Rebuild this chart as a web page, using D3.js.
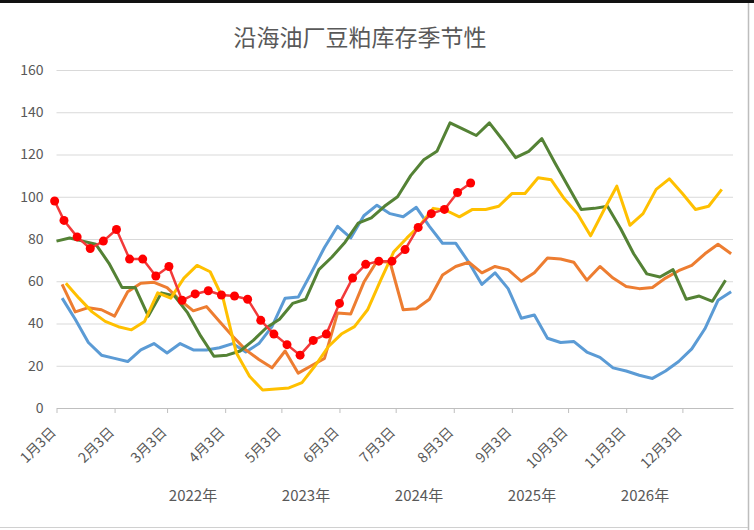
<!DOCTYPE html>
<html>
<head>
<meta charset="utf-8">
<script src="https://cdn.jsdelivr.net/npm/d3@7"></script>
<style>
  body { margin: 0; background: #fff; }
  text { font-family: "Noto Sans CJK SC", "Microsoft YaHei", sans-serif; }
</style>
</head>
<body>
<div id="chart"></div>
<script>
// weekly inventory readings (万吨), one array per year
const years = ["2022年", "2023年", "2024年", "2025年", "2026年"];
const monthLabels = ["1月3日", "2月3日", "3月3日", "4月3日", "5月3日", "6月3日",
  "7月3日", "8月3日", "9月3日", "10月3日", "11月3日", "12月3日"];
const yTicks = [0, 20, 40, 60, 80, 100, 120, 140, 160];

// first reading date of each year (month-day), then one reading a week
const firstDates = ["01-06", "01-06", "01-03", "01-08", "01-07"];
const leadDate2026 = "01-02";

const v2022 = [52, 42, 31, 25, 23.5, 22, 27.5, 30.5, 26, 30.5, 27.5, 27.5, 28.5, 30.5, 26.5, 30.5,
  38.5, 52, 52.5, 64, 76, 86, 80.5, 91, 96, 92, 90.5, 95, 86, 78, 78, 69, 58.5, 64, 56.5, 42.5,
  44, 33, 31, 31.5, 26.5, 24, 19, 17.5, 15.5, 14, 17.5, 22, 28, 37.5, 51, 55];
const v2023 = [58.5, 45.5, 47.5, 46.5, 43.5, 55, 59, 59.5, 57, 51, 46, 48, 41, 34, 27.5, 23,
  19, 27, 16.5, 20, 23.5, 45, 44.5, 59.5, 69.5, 69, 46.5, 47, 51.5, 63, 67, 69, 64, 67, 65.5, 60,
  64, 71, 70.5, 69, 60.5, 67, 61.5, 57.5, 56.5, 57, 61.5, 65, 67.5, 73, 77.5, 73];
const v2024 = [79, 80.5, 79, 77.5, 68.5, 57, 57, 43.5, 54.5, 53, 45, 34, 24.5, 25, 27, 32,
  38, 42, 49.5, 51.5, 65.5, 71.5, 78.5, 87.5, 90, 95.5, 100, 110, 117.5, 121.5, 135, 132, 129, 135,
  127, 118.5, 121.5, 127.5, 116, 105, 94, 94.5, 95.5, 85, 73, 63.5, 62, 65.5, 51.5, 53, 50.5, 60.5];
const v2025 = [59, 52, 45.5, 41, 38.5, 37, 41, 54.5, 52, 61.5, 67.5, 64.5, 51.5, 26, 15, 8.5,
  9, 9.5, 12, 20, 29, 35, 38.5, 46.5, 60.5, 74, 80.5, 86.5, 94.5, 93.5, 90.5, 94, 94, 95.5, 101.5,
  101.5, 109, 108, 99, 92, 81.5, 93.5, 105, 86.5, 92, 103.5, 108.5, 101.5, 94, 95.5, 103.5];
const v2026 = [98, 88.8, 81, 75.5, 79, 84.5, 70.5, 70.5, 62.5, 67, 51, 54, 55.5, 53.5, 53, 51.5,
  41.5, 35, 30, 25, 32, 35, 49.5, 61.5, 68, 69.5, 69.5, 75, 85.5, 92, 94, 102, 106.5];

const colors = ["#5b9bd5", "#ed7d31", "#548235", "#ffc000", "#f23a3a"];

function drawChart() {
  let W = 754, H = 530;
  let margin = { top: 70, right: 21, bottom: 122, left: 56.5 };
  let w = W - margin.left - margin.right;
  let h = H - margin.top - margin.bottom;

  let svg = d3.select("#chart").append("svg")
    .attr("width", W)
    .attr("height", H);

  // frame edges seen in the screenshot
  svg.append("rect").attr("x", 0).attr("y", 0).attr("width", W).attr("height", 3).attr("fill", "#111");
  svg.append("line").attr("x1", 748.5).attr("x2", 748.5).attr("y1", 3).attr("y2", H)
    .attr("stroke", "#bdbdbd").attr("stroke-width", 1.5);
  svg.append("line").attr("x1", 0).attr("x2", 748).attr("y1", 527.5).attr("y2", 527.5)
    .attr("stroke", "#d0d0d0").attr("stroke-width", 1);

  svg.append("text")
    .attr("x", 360)
    .attr("y", 46)
    .attr("text-anchor", "middle")
    .attr("font-size", "23px")
    .attr("fill", "#595959")
    .text("沿海油厂豆粕库存季节性");

  let g = svg.append("g")
    .attr("transform", `translate(${margin.left}, ${margin.top})`);

  let parse = d3.timeParse("%Y-%m-%d");
  let day = md => parse("2023-" + md);

  let x = d3.scaleTime()
    .domain([day("01-03"), day("12-30")])
    .range([0, w]);
  let y = d3.scaleLinear()
    .domain([0, 160])
    .range([h, 0]);

  // gridlines
  g.append("g")
    .call(d3.axisLeft(y).tickValues(yTicks.slice(1)).tickSize(-w).tickFormat(""))
    .call(s => s.select(".domain").remove())
    .selectAll("line").attr("stroke", "#d9d9d9");

  // y labels
  g.append("g")
    .call(d3.axisLeft(y).tickValues(yTicks).tickSize(0).tickPadding(13))
    .call(s => s.select(".domain").remove())
    .selectAll("text")
    .attr("font-size", "14px")
    .attr("fill", "#595959");

  // x axis with monthly ticks
  let tickDates = monthLabels.map((d, i) => new Date(2023, i, 3));
  let xAxis = g.append("g")
    .attr("transform", `translate(0, ${h})`)
    .call(d3.axisBottom(x).tickValues(tickDates)
      .tickFormat((d, i) => monthLabels[i]).tickSize(5).tickSizeOuter(0));
  xAxis.select(".domain").attr("stroke", "#bfbfbf");
  xAxis.selectAll(".tick line").attr("stroke", "#bfbfbf");
  xAxis.selectAll("text")
    .attr("y", 0)
    .attr("dy", 0)
    .attr("transform", "translate(0, 25) rotate(-45)")
    .attr("text-anchor", "end")
    .attr("font-size", "14px")
    .attr("fill", "#595959");

  let series = [v2022, v2023, v2024, v2025, v2026].map((vals, k) => {
    let start = day(firstDates[k]);
    let pts = vals.map((v, i) => ({ date: d3.timeDay.offset(start, 7 * i), value: v }));
    if (k === 4) {
      // 2026 has an extra first reading before the weekly run
      pts = vals.map((v, i) => ({
        date: i === 0 ? day(leadDate2026) : d3.timeDay.offset(start, 7 * (i - 1)),
        value: v
      }));
    }
    return { name: years[k], color: colors[k], points: pts };
  });

  let line = d3.line()
    .x(d => x(d.date))
    .y(d => y(d.value));

  g.selectAll(".year-line")
    .data(series)
    .enter()
    .append("path")
    .attr("class", "year-line")
    .attr("d", d => line(d.points))
    .attr("fill", "none")
    .attr("stroke", d => d.color)
    .attr("stroke-width", d => d.name === "2026年" ? 2.5 : 3)
    .attr("stroke-linejoin", "round");

  // markers on the current year
  g.selectAll(".dot")
    .data(series[4].points)
    .enter()
    .append("circle")
    .attr("class", "dot")
    .attr("cx", d => x(d.date))
    .attr("cy", d => y(d.value))
    .attr("r", 4.5)
    .attr("fill", "#ff0000");

  // legend, text only
  svg.selectAll(".legend")
    .data(years)
    .enter()
    .append("text")
    .attr("class", "legend")
    .attr("x", (d, i) => 193 + 113 * i)
    .attr("y", 501)
    .attr("text-anchor", "middle")
    .attr("font-size", "15px")
    .attr("fill", "#595959")
    .text(d => d);
}

drawChart();
</script>
</body>
</html>
